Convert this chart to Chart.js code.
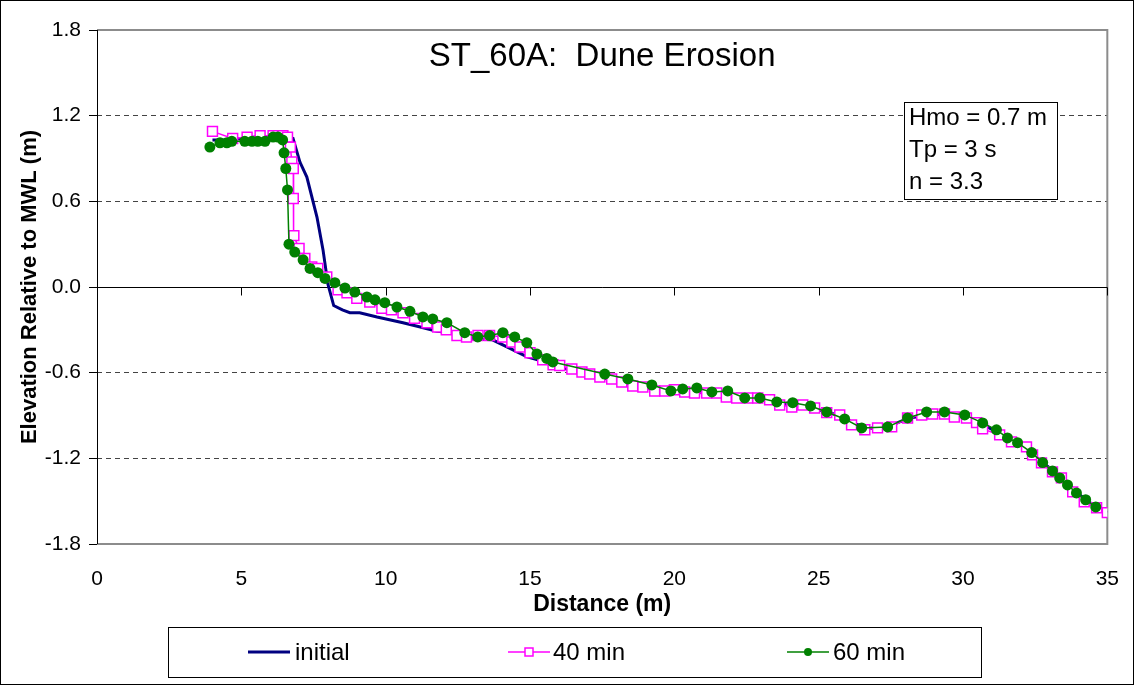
<!DOCTYPE html>
<html><head><meta charset="utf-8">
<script src="https://cdn.jsdelivr.net/npm/chart.js@4.4.0/dist/chart.umd.min.js"></script>
<style>html,body{margin:0;padding:0;background:#fff}#wrap{position:relative;width:1134px;height:685px}canvas{display:block}</style>
</head><body><div id="wrap"><canvas id="c" width="1134" height="685"></canvas></div>
<script>
const titleText = 'ST_60A:  Dune Erosion';
const xTitle = 'Distance (m)';
const yTitle = 'Elevation Relative to MWL (m)';
const seriesNames = ['initial', '40 min', '60 min'];
const noteLines = ['Hmo = 0.7 m', 'Tp = 3 s', 'n = 3.3'];
const xTicks = [0, 5, 10, 15, 20, 25, 30, 35];
const yTicks = [-1.8, -1.2, -0.6, 0.0, 0.6, 1.2, 1.8];

const initialX = [4.0, 4.5, 5.5, 6.3, 6.79, 7.03, 7.27, 7.62, 7.83, 8.0, 8.2, 8.5, 8.76, 9.1, 9.7, 10.6, 11.2, 11.77, 12.33, 12.67, 13.7, 14.2, 14.9, 15.6, 16.0, 17.0, 18.0, 19.0, 20.0, 21.0, 22.0, 23.0, 24.0, 25.0, 25.7, 26.3, 26.8, 27.5, 28.1, 29.0, 29.8, 30.5, 31.2, 32.0, 32.7, 33.4, 34.0, 34.6, 35.0];
const initialY = [1.03, 1.03, 1.05, 1.05, 1.04, 0.875, 0.77, 0.49, 0.26, 0.02, -0.13, -0.16, -0.18, -0.18, -0.21, -0.25, -0.28, -0.31, -0.32, -0.36, -0.37, -0.42, -0.49, -0.53, -0.56, -0.61, -0.66, -0.71, -0.73, -0.74, -0.77, -0.78, -0.83, -0.86, -0.9, -0.96, -0.99, -0.97, -0.92, -0.89, -0.9, -0.94, -1.02, -1.1, -1.22, -1.33, -1.45, -1.54, -1.58];

const min40X = [4.0, 4.7, 5.2, 5.65, 6.1, 6.44, 6.6, 6.7, 6.75, 6.8, 6.8, 6.82, 7.0, 7.2, 7.44, 7.65, 7.96, 8.35, 8.66, 9.0, 9.45, 9.87, 10.2, 10.6, 11.0, 11.43, 11.8, 12.1, 12.47, 12.8, 13.2, 13.6, 14.06, 14.37, 14.65, 15.0, 15.44, 15.8, 16.03, 16.45, 16.8, 17.07, 17.42, 17.83, 18.18, 18.56, 18.91, 19.32, 19.67, 20.0, 20.36, 20.7, 21.12, 21.47, 21.8, 22.16, 22.54, 22.89, 23.3, 23.65, 24.07, 24.45, 24.86, 25.28, 25.73, 26.14, 26.6, 27.04, 27.53, 28.08, 28.57, 28.95, 29.36, 29.7, 30.12, 30.47, 30.68, 31.27, 31.68, 32.2, 32.41, 32.72, 33.1, 33.41, 33.8, 34.2, 34.63, 35.0];
const min40Y = [1.09, 1.04, 1.05, 1.06, 1.06, 1.06, 1.05, 0.98, 0.875, 0.83, 0.62, 0.36, 0.27, 0.2, 0.14, 0.13, 0.07, -0.02, -0.04, -0.08, -0.105, -0.15, -0.16, -0.18, -0.22, -0.25, -0.28, -0.30, -0.34, -0.35, -0.34, -0.34, -0.35, -0.385, -0.42, -0.46, -0.51, -0.545, -0.55, -0.574, -0.595, -0.609, -0.63, -0.644, -0.665, -0.693, -0.70, -0.728, -0.728, -0.72, -0.735, -0.742, -0.742, -0.742, -0.77, -0.777, -0.777, -0.777, -0.79, -0.826, -0.84, -0.826, -0.847, -0.88, -0.896, -0.966, -1.0, -0.987, -0.98, -0.917, -0.896, -0.889, -0.889, -0.91, -0.917, -0.95, -0.994, -1.036, -1.085, -1.12, -1.176, -1.232, -1.295, -1.337, -1.435, -1.505, -1.546, -1.58];

const min60X = [3.91, 4.26, 4.5, 4.67, 5.12, 5.37, 5.57, 5.82, 6.1, 6.27, 6.43, 6.48, 6.54, 6.6, 6.65, 6.85, 7.14, 7.38, 7.65, 7.9, 8.24, 8.59, 8.93, 9.35, 9.63, 9.97, 10.39, 10.84, 11.29, 11.63, 12.12, 12.74, 13.19, 13.6, 14.06, 14.47, 14.89, 15.24, 15.58, 15.79, 17.59, 18.39, 19.22, 19.88, 20.29, 20.78, 21.3, 21.85, 22.44, 22.96, 23.55, 24.1, 24.72, 25.28, 25.9, 26.49, 27.39, 28.08, 28.74, 29.36, 30.06, 30.68, 31.16, 31.54, 31.89, 32.38, 32.76, 33.1, 33.35, 33.62, 33.93, 34.25, 34.6];
const min60Y = [0.98, 1.01, 1.01, 1.02, 1.02, 1.02, 1.02, 1.02, 1.05, 1.05, 1.03, 0.94, 0.83, 0.68, 0.30, 0.245, 0.19, 0.13, 0.1, 0.06, 0.03, -0.007, -0.035, -0.07, -0.09, -0.11, -0.14, -0.17, -0.21, -0.224, -0.25, -0.32, -0.35, -0.34, -0.32, -0.35, -0.39, -0.47, -0.50, -0.525, -0.61, -0.644, -0.686, -0.728, -0.714, -0.707, -0.735, -0.728, -0.777, -0.777, -0.805, -0.81, -0.833, -0.875, -0.924, -0.987, -0.98, -0.917, -0.875, -0.875, -0.896, -0.952, -1.0, -1.057, -1.09, -1.16, -1.23, -1.288, -1.337, -1.386, -1.442, -1.49, -1.54];

const pts = (xs, ys) => xs.map((x, i) => ({x: x, y: ys[i]}));
const FONT = "'Liberation Sans', Arial, sans-serif";

const decor = {
  id: 'decor',
  beforeDatasetsDraw(chart) {
    const {ctx, chartArea: a, scales: {x, y}} = chart;
    ctx.save();
    ctx.strokeStyle = '#8c8c8c';
    ctx.lineWidth = 2;
    ctx.beginPath();
    ctx.moveTo(a.left, a.top); ctx.lineTo(a.right, a.top); ctx.lineTo(a.right, a.bottom); ctx.lineTo(a.left, a.bottom);
    ctx.stroke();
    ctx.strokeStyle = '#000';
    ctx.lineWidth = 1;
    ctx.beginPath();
    ctx.moveTo(a.left + 0.5, a.top); ctx.lineTo(a.left + 0.5, a.bottom);
    ctx.stroke();
    const y0 = Math.round(y.getPixelForValue(0)) + 0.5;
    ctx.beginPath();
    ctx.moveTo(a.left, y0); ctx.lineTo(a.right, y0);
    xTicks.forEach(v => {
      const px = Math.round(x.getPixelForValue(v)) + 0.5;
      ctx.moveTo(px, y0); ctx.lineTo(px, y0 + 8);
    });
    ctx.stroke();
    ctx.restore();
  },
  afterDraw(chart) {
    const {ctx, chartArea: a} = chart;
    const ds = chart.data.datasets;
    ctx.save();
    ctx.fillStyle = '#000';
    ctx.font = '33px ' + FONT;
    ctx.textAlign = 'center';
    ctx.textBaseline = 'middle';
    ctx.fillText(titleText, (a.left + a.right) / 2, 57);
    ctx.fillStyle = '#fff';
    ctx.fillRect(904, 102, 153, 97);
    ctx.strokeStyle = '#000';
    ctx.lineWidth = 1;
    ctx.strokeRect(904.5, 102.5, 153, 97);
    ctx.fillStyle = '#000';
    ctx.font = '24px ' + FONT;
    ctx.textAlign = 'left';
    noteLines.forEach((t, i) => ctx.fillText(t, 909, 118 + i * 32));
    ctx.strokeRect(168.5, 627.5, 813, 50);
    const ly = 652;
    const items = [{x0: 248, x1: 290, tx: 295}, {x0: 508, x1: 550, tx: 553}, {x0: 787, x1: 829, tx: 833}];
    items.forEach((it, i) => {
      const d = ds[i];
      ctx.strokeStyle = d.borderColor;
      ctx.lineWidth = d.borderWidth;
      ctx.beginPath(); ctx.moveTo(it.x0, ly); ctx.lineTo(it.x1, ly); ctx.stroke();
      const cx = (it.x0 + it.x1) / 2;
      if (d.pointStyle === 'rect' && d.pointRadius > 0) {
        ctx.fillStyle = d.pointBackgroundColor;
        ctx.fillRect(cx - 4, ly - 4, 8, 8);
        ctx.strokeStyle = d.pointBorderColor;
        ctx.lineWidth = 1.5;
        ctx.strokeRect(cx - 4, ly - 4, 8, 8);
      } else if (d.pointStyle === 'circle' && d.pointRadius > 0) {
        ctx.fillStyle = d.pointBackgroundColor;
        ctx.beginPath(); ctx.arc(cx, ly, 4, 0, Math.PI * 2); ctx.fill();
      }
      ctx.fillStyle = '#000';
      ctx.font = '24px ' + FONT;
      ctx.fillText(d.label, it.tx, ly + 1);
    });
    ctx.strokeStyle = '#000';
    ctx.lineWidth = 1;
    ctx.strokeRect(0.5, 0.5, 1133, 684);
    ctx.restore();
  }
};

new Chart(document.getElementById('c'), {
  type: 'line',
  data: {
    datasets: [
      {label: seriesNames[0], data: pts(initialX, initialY), borderColor: '#000080', borderWidth: 3, pointRadius: 0, pointStyle: false, tension: 0, order: 3},
      {label: seriesNames[1], data: pts(min40X, min40Y), borderColor: '#ff00ff', borderWidth: 1.5, pointStyle: 'rect', pointRadius: 7, pointBorderColor: '#ff00ff', pointBackgroundColor: '#ffffff', pointBorderWidth: 1.5, tension: 0, order: 2},
      {label: seriesNames[2], data: pts(min60X, min60Y), borderColor: '#008000', borderWidth: 1.5, pointStyle: 'circle', pointRadius: 5.5, pointBorderColor: '#008000', pointBackgroundColor: '#008000', pointBorderWidth: 0, tension: 0, order: 1}
    ]
  },
  options: {
    responsive: false,
    devicePixelRatio: 1,
    animation: false,
    layout: {padding: {left: 0, top: 30, right: 19, bottom: 67}},
    plugins: {legend: {display: false}, tooltip: {enabled: false}, title: {display: false}},
    scales: {
      x: {
        type: 'linear', min: 0, max: 35,
        afterBuildTicks: s => { s.ticks = xTicks.map(v => ({value: v})); },
        afterFit: s => { s.height = 74; },
        grid: {display: false},
        border: {display: false},
        ticks: {color: '#000', font: {family: FONT, size: 21}, padding: 15, maxRotation: 0, autoSkip: false},
        title: {display: true, text: xTitle, color: '#000', font: {family: FONT, size: 23, weight: 'bold'}, padding: {top: 0, bottom: 0}}
      },
      y: {
        type: 'linear', min: -1.8, max: 1.8,
        afterBuildTicks: s => { s.ticks = yTicks.map(v => ({value: v})); },
        afterFit: s => { s.width = 97; },
        grid: {
          color: c => { const v = c.tick ? c.tick.value : 0; return (Math.abs(v) < 1e-9 || Math.abs(Math.abs(v) - 1.8) < 1e-9) ? 'rgba(0,0,0,0)' : '#444'; },
          lineWidth: 1, tickColor: '#000', tickLength: 8, drawTicks: true
        },
        border: {display: false, dash: [5, 4]},
        ticks: {color: '#000', font: {family: FONT, size: 21}, padding: 8, callback: v => Number(v).toFixed(1), autoSkip: false},
        title: {display: true, text: yTitle, color: '#000', font: {family: FONT, size: 22, weight: 'bold'}, padding: {top: 17, bottom: 0}}
      }
    }
  },
  plugins: [decor]
});
</script></body></html>
